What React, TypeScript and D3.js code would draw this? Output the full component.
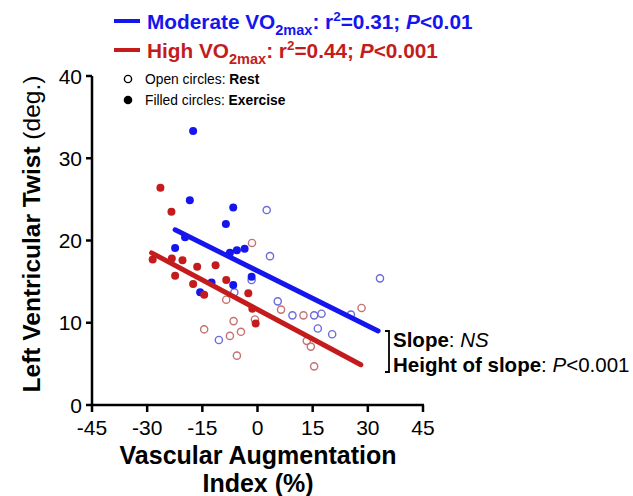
import * as d3 from 'd3'

// values: [vascular augmentation index %, LV twist deg.]
const moderateExercise: [number, number][] = [
  [-17.5, 33.3], [-18.4, 24.9], [-6.6, 24.0], [-8.6, 22.0], [-22.4, 19.1], [-19.7, 20.4],
  [-7.5, 18.5], [-5.6, 18.8], [-3.5, 19.0], [-1.6, 15.6], [-6.6, 14.6], [-12.5, 14.9],
  [-15.6, 13.7]
]
const moderateRest: [number, number][] = [
  [2.5, 23.7], [3.4, 18.1], [33.3, 15.4], [5.5, 12.6], [9.5, 10.9], [15.4, 10.9],
  [17.4, 11.1], [25.4, 11.0], [16.4, 9.3], [20.3, 8.6], [-10.5, 7.9], [-1.6, 15.2],
  [-6.3, 13.7]
]
const highExercise: [number, number][] = [
  [-26.4, 26.4], [-23.4, 23.5], [-28.5, 17.7], [-23.3, 17.8], [-20.4, 17.6], [-16.4, 16.8],
  [-11.4, 17.0], [-22.4, 15.7], [-17.5, 14.7], [-8.5, 15.2], [-14.5, 13.4], [-2.5, 13.6],
  [-1.4, 11.7], [-0.5, 9.9]
]
const highRest: [number, number][] = [
  [-1.5, 19.7], [-8.5, 12.8], [-6.5, 10.2], [-14.5, 9.2], [-4.5, 8.9], [-7.5, 8.4],
  [-5.6, 6.0], [-0.7, 10.4], [6.4, 11.6], [12.5, 10.9], [28.3, 11.8], [13.4, 7.8],
  [14.5, 7.1], [15.4, 4.7]
]
const moderateFit: [number, number][] = [[-22.4, 21.3], [32.8, 9.0]]
const highFit: [number, number][] = [[-28.8, 18.5], [28.1, 4.9]]

const xTicks = [-45, -30, -15, 0, 15, 30, 45]
const yTicks = [0, 10, 20, 30, 40]

const blue = '#1515ee'
const red = '#c41c1c'
const blueOpen = '#6b6bdc'
const redOpen = '#c57272'
const font = '"Liberation Sans", Arial, sans-serif'

export default function App() {
  const x = d3.scaleLinear().domain([-45, 45]).range([92, 423])
  const y = d3.scaleLinear().domain([0, 40]).range([405, 76])
  const line = d3.line<[number, number]>().x(d => x(d[0])).y(d => y(d[1]))

  return (
    <svg width={633} height={496} style={{ position: 'absolute', left: 0, top: 0, background: '#fff' }}
      fontFamily={font}>
      {/* top legend */}
      <line x1={114} x2={140} y1={21} y2={21} stroke={blue} strokeWidth={4} />
      <text x={147} y={29} fontSize={20.8} fontWeight="bold" fill={blue}>
        Moderate VO<tspan fontSize={14.5} dy={6}>2max</tspan>
        <tspan dy={-6}>: r</tspan><tspan fontSize={13.5} dy={-8}>2</tspan>
        <tspan dy={8}>=0.31; </tspan><tspan fontStyle="italic">P</tspan>&lt;0.01
      </text>
      <line x1={114} x2={140} y1={50} y2={50} stroke={red} strokeWidth={4} />
      <text x={147} y={58} fontSize={20.8} fontWeight="bold" fill={red}>
        High VO<tspan fontSize={14.5} dy={6}>2max</tspan>
        <tspan dy={-6}>: r</tspan><tspan fontSize={13.5} dy={-8}>2</tspan>
        <tspan dy={8}>=0.44; </tspan><tspan fontStyle="italic">P</tspan>&lt;0.001
      </text>

      {/* inner legend */}
      <circle cx={128} cy={79} r={3.6} fill="#fff" stroke="#000" strokeWidth={1.4} />
      <text x={145} y={84} fontSize={13.8}>Open circles: <tspan fontWeight="bold">Rest</tspan></text>
      <circle cx={128} cy={100} r={4.3} fill="#000" />
      <text x={145} y={105} fontSize={13.8}>Filled circles: <tspan fontWeight="bold">Exercise</tspan></text>

      {/* axes */}
      <line x1={x(-45)} x2={x(-45)} y1={y(40)} y2={y(0)} stroke="#000" strokeWidth={2.5} />
      <line x1={x(-45) - 1} x2={x(45) + 1} y1={y(0)} y2={y(0)} stroke="#000" strokeWidth={2.5} />
      {yTicks.map(t => (
        <g key={'y' + t}>
          <line x1={x(-45) - 6} x2={x(-45)} y1={y(t)} y2={y(t)} stroke="#000" strokeWidth={2.5} />
          <text x={x(-45) - 10} y={y(t) + 7.5} fontSize={21} textAnchor="end">{t}</text>
        </g>
      ))}
      {xTicks.map(t => (
        <g key={'x' + t}>
          <line x1={x(t)} x2={x(t)} y1={y(0)} y2={y(0) + 7} stroke="#000" strokeWidth={2.5} />
          <text x={x(t)} y={435} fontSize={21} textAnchor="middle">{t}</text>
        </g>
      ))}
      <text x={258} y={464} fontSize={25} fontWeight="bold" textAnchor="middle">Vascular Augmentation</text>
      <text x={258} y={492} fontSize={25} fontWeight="bold" textAnchor="middle">Index (%)</text>
      <text transform="translate(40,234) rotate(-90)" fontSize={24.5} textAnchor="middle">
        <tspan fontWeight="bold">Left Ventricular Twist </tspan>(deg.)
      </text>

      {/* points */}
      {moderateRest.map((d, i) => (
        <circle key={'mr' + i} cx={x(d[0])} cy={y(d[1])} r={3.6} fill="none" stroke={blueOpen} strokeWidth={1.4} />
      ))}
      {highRest.map((d, i) => (
        <circle key={'hr' + i} cx={x(d[0])} cy={y(d[1])} r={3.6} fill="none" stroke={redOpen} strokeWidth={1.4} />
      ))}
      {moderateExercise.map((d, i) => (
        <circle key={'me' + i} cx={x(d[0])} cy={y(d[1])} r={4} fill={blue} />
      ))}
      {highExercise.map((d, i) => (
        <circle key={'he' + i} cx={x(d[0])} cy={y(d[1])} r={4} fill={red} />
      ))}

      {/* regression lines */}
      <path d={line(moderateFit) ?? ''} fill="none" stroke={blue} strokeWidth={5} strokeLinecap="round" />
      <path d={line(highFit) ?? ''} fill="none" stroke={red} strokeWidth={5} strokeLinecap="round" />

      {/* annotation */}
      <path d="M385,331 H389 V372 H385" fill="none" stroke="#000" strokeWidth={1.8} />
      <text x={393} y={347} fontSize={20.5}>
        <tspan fontWeight="bold">Slope</tspan>: <tspan fontStyle="italic">NS</tspan>
      </text>
      <text x={393} y={372} fontSize={20.5}>
        <tspan fontWeight="bold">Height of slope</tspan>: <tspan fontStyle="italic">P</tspan>&lt;0.001
      </text>
    </svg>
  )
}
